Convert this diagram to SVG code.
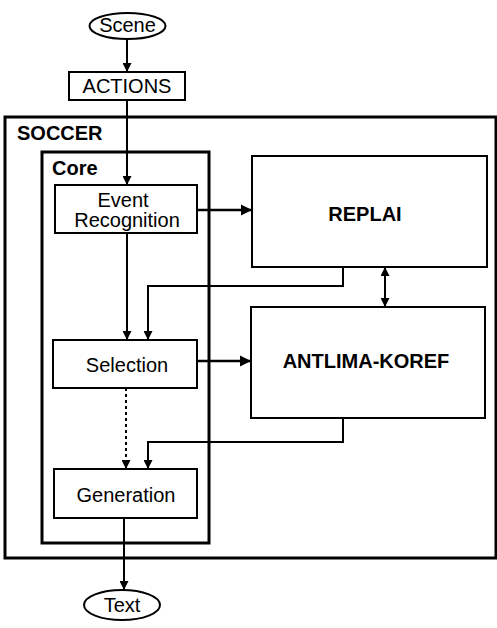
<svg xmlns="http://www.w3.org/2000/svg" width="497" height="628" viewBox="0 0 497 628">
<style>
.t{font-family:"Liberation Sans",Arial,sans-serif;font-size:20px;fill:#000;text-anchor:middle}
.b{font-weight:bold}
.box{fill:none;stroke:#000;stroke-width:2}
.frame{fill:none;stroke:#000;stroke-width:3}
.c{fill:none;stroke:#000;stroke-width:2}
</style>
<defs>
<marker id="ah" viewBox="0 0 10 10" refX="10" refY="5" markerWidth="4.5" markerHeight="4.5" orient="auto-start-reverse" markerUnits="strokeWidth">
<path d="M0,0 L10,5 L0,10 z" fill="#000"/>
</marker>
</defs>
<rect width="497" height="628" fill="#fff"/>
<g id="soccer">
<rect class="frame" x="5" y="117" width="491" height="441"/>
<text class="t b" x="17" y="140" style="text-anchor:start">SOCCER</text>
</g>
<g id="core">
<rect class="frame" x="42" y="152" width="167" height="391"/>
<text class="t b" x="52" y="175" style="text-anchor:start">Core</text>
</g>
<g id="scene">
<ellipse class="box" cx="127.5" cy="26" rx="38" ry="13"/>
<text class="t" x="127.5" y="32">Scene</text>
</g>
<g id="actions">
<rect class="box" x="69" y="72" width="116" height="28"/>
<text class="t" x="127" y="93">ACTIONS</text>
</g>
<g id="event">
<rect class="box" x="55" y="185" width="142" height="48"/>
<text class="t" x="123" y="207">Event</text>
<text class="t" x="127" y="227">Recognition</text>
</g>
<g id="selection">
<rect class="box" x="53" y="340" width="144" height="48"/>
<text class="t" x="127" y="372">Selection</text>
</g>
<g id="generation">
<rect class="box" x="54" y="469" width="143" height="49"/>
<text class="t" x="126" y="502">Generation</text>
</g>
<g id="replai">
<rect class="box" x="252" y="156" width="235" height="111"/>
<text class="t b" x="365" y="221">REPLAI</text>
</g>
<g id="antlima">
<rect class="box" x="251" y="307" width="234" height="111"/>
<text class="t b" x="366" y="368">ANTLIMA-KOREF</text>
</g>
<g id="text">
<ellipse class="box" cx="122" cy="605" rx="38" ry="15"/>
<text class="t" x="122" y="612">Text</text>
</g>
<g id="connectors">
<line class="c" x1="127" y1="39" x2="127" y2="72" marker-end="url(#ah)"/>
<line class="c" x1="127" y1="100" x2="127" y2="185" marker-end="url(#ah)"/>
<line class="c" x1="197" y1="210" x2="252" y2="210" marker-end="url(#ah)" style="stroke-width:2.5"/>
<line class="c" x1="127" y1="233" x2="127" y2="340" marker-end="url(#ah)"/>
<polyline class="c" points="343,267 343,286 148,286 148,340" marker-end="url(#ah)"/>
<line class="c" x1="385" y1="267" x2="385" y2="307" marker-start="url(#ah)" marker-end="url(#ah)"/>
<line class="c" x1="197" y1="361" x2="251" y2="361" marker-end="url(#ah)" style="stroke-width:2.5"/>
<line class="c" x1="126" y1="388" x2="126" y2="469" marker-end="url(#ah)" stroke-dasharray="3,3"/>
<polyline class="c" points="343,418 343,442 148,442 148,469" marker-end="url(#ah)"/>
<line class="c" x1="124" y1="518" x2="124" y2="590" marker-end="url(#ah)"/>
</g>
</svg>
